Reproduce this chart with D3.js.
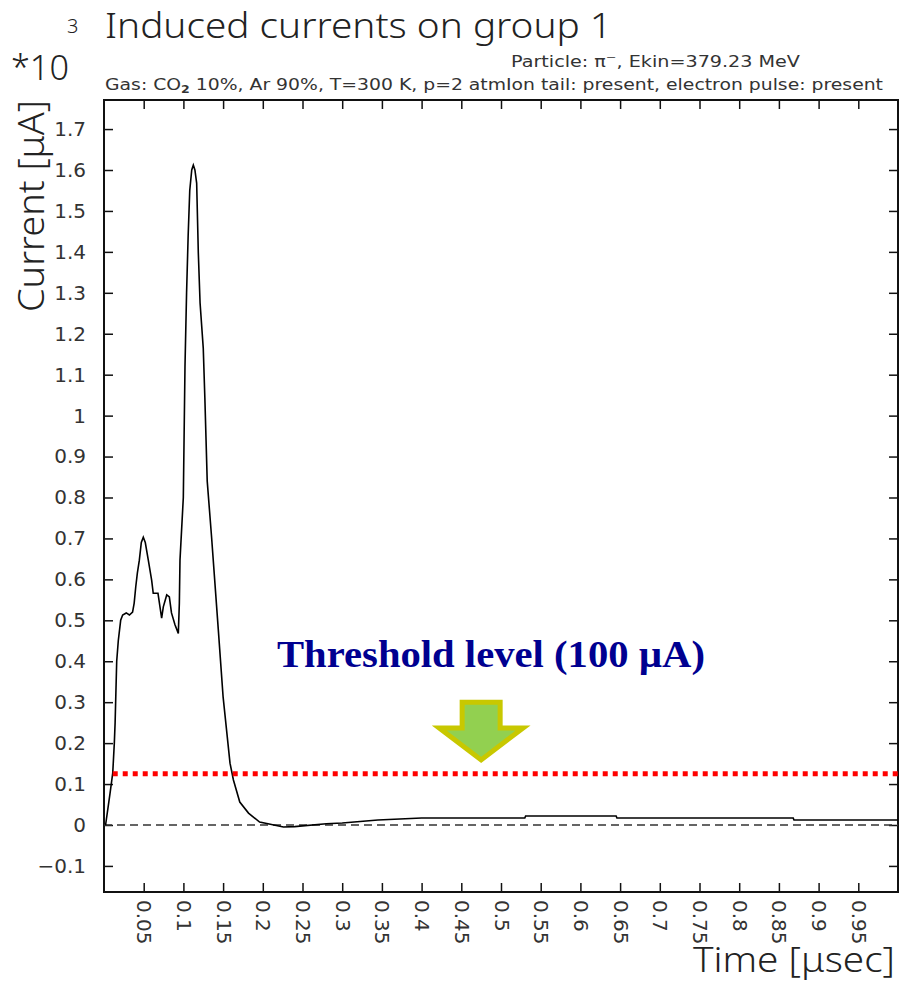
<!DOCTYPE html>
<html>
<head>
<meta charset="utf-8">
<script src="https://cdn.jsdelivr.net/npm/d3@7"></script>
<style>
  body { margin: 0; background: #fff; }
  svg text { font-family: "DejaVu Sans", "Liberation Sans", sans-serif; fill: #333; }
  svg text.thin { font-family: "Noto Sans", "DejaVu Sans", sans-serif; font-weight: 300; fill: #222; }
</style>
</head>
<body>
<div id="chart"></div>
<script>
// induced current, group 1 (time in usec, current in units of 1e3 uA)
var time = [0.002, 0.0076, 0.011, 0.013, 0.014, 0.016, 0.018, 0.021, 0.0235, 0.028,
  0.032, 0.036, 0.038, 0.040, 0.042, 0.0445, 0.047, 0.0495, 0.052, 0.0558,
  0.060, 0.062, 0.068, 0.0726, 0.0747, 0.079, 0.0823, 0.085, 0.0894, 0.0936,
  0.0949, 0.0957, 0.0999, 0.102, 0.104, 0.106, 0.108, 0.1105, 0.1125, 0.1145, 0.1167, 0.1188,
  0.121, 0.125, 0.127, 0.130, 0.1355, 0.144, 0.150, 0.1587, 0.163, 0.171,
  0.182, 0.196, 0.226, 0.24, 0.28, 0.30, 0.345, 0.40, 0.53, 0.531,
  0.645, 0.646, 0.868, 0.869, 1.0];
var current = [0, 0.077, 0.127, 0.20, 0.25, 0.40, 0.45, 0.50, 0.513, 0.518,
  0.513, 0.52, 0.542, 0.582, 0.615, 0.647, 0.69, 0.703, 0.69, 0.647,
  0.598, 0.566, 0.566, 0.505, 0.533, 0.562, 0.557, 0.518, 0.489, 0.468,
  0.542, 0.647, 0.80, 1.12, 1.30, 1.44, 1.55, 1.60, 1.612, 1.60, 1.568, 1.397,
  1.275, 1.165, 1.045, 0.84, 0.703, 0.476, 0.313, 0.151, 0.11, 0.056,
  0.029, 0.007, -0.005, -0.004, 0.003, 0.005, 0.012, 0.017, 0.017, 0.022,
  0.022, 0.017, 0.017, 0.012, 0.012];

var xTicks = [0.05, 0.1, 0.15, 0.2, 0.25, 0.3, 0.35, 0.4, 0.45, 0.5,
  0.55, 0.6, 0.65, 0.7, 0.75, 0.8, 0.85, 0.9, 0.95];
var yTicks = [-0.1, 0, 0.1, 0.2, 0.3, 0.4, 0.5, 0.6, 0.7, 0.8, 0.9,
  1, 1.1, 1.2, 1.3, 1.4, 1.5, 1.6, 1.7];
var yTickLabels = ["\u22120.1", "0", "0.1", "0.2", "0.3", "0.4", "0.5", "0.6", "0.7", "0.8", "0.9",
  "1", "1.1", "1.2", "1.3", "1.4", "1.5", "1.6", "1.7"];

var threshold = 0.125;      // red dotted line level
var thresholdStart = 0.011; // where the red line begins
var arrowAt = [0.475, 0.159, 0.30]; // tip time, tip level, top level

var W = 900, H = 985;
var margin = {top: 100, right: 2, bottom: 93, left: 104};
var width = W - margin.left - margin.right;
var height = H - margin.top - margin.bottom;

var x = d3.scaleLinear().domain([0, 1]).range([0, width]);
var y = d3.scaleLinear().domain([-0.1637, 1.771]).range([height, 0]);

var svg = d3.select('#chart').append('svg')
    .attr('width', W)
    .attr('height', H);

var g = svg.append('g')
    .attr('transform', 'translate(' + margin.left + ',' + margin.top + ')');

// axes with inward ticks on all four sides
g.append('g')
    .attr('class', 'y axis')
    .call(d3.axisLeft(y).tickValues(yTicks).tickSizeInner(-9).tickSizeOuter(0).tickPadding(18)
      .tickFormat(function(d, i) { return yTickLabels[i]; }));

g.append('g')
    .attr('transform', 'translate(' + width + ',0)')
    .call(d3.axisRight(y).tickValues(yTicks).tickSizeInner(-9).tickSizeOuter(0).tickFormat(''));

var xAxis = g.append('g')
    .attr('class', 'x axis')
    .attr('transform', 'translate(0,' + height + ')')
    .call(d3.axisBottom(x).tickValues(xTicks).tickSizeInner(-9).tickSizeOuter(0).tickPadding(8)
      .tickFormat(function(d) { return String(d); }));

xAxis.selectAll('text')
    .attr('transform', 'rotate(90)')
    .attr('x', 8)
    .attr('y', 0)
    .attr('dy', '0.35em')
    .style('text-anchor', 'start');

g.append('g')
    .call(d3.axisTop(x).tickValues(xTicks).tickSizeInner(-9).tickSizeOuter(0).tickFormat(''));

g.selectAll('.axis text').style('font-size', '20px').style('fill', '#333');
g.selectAll('.domain').remove();
g.selectAll('.tick line').attr('stroke', '#111').attr('stroke-width', 1.5);

// frame
g.append('rect')
    .attr('width', width)
    .attr('height', height)
    .attr('fill', 'none')
    .attr('stroke', '#111')
    .attr('stroke-width', 2);

// zero reference
g.append('line')
    .attr('x1', x(0)).attr('x2', x(1))
    .attr('y1', y(0)).attr('y2', y(0))
    .attr('stroke', '#333')
    .attr('stroke-width', 1.5)
    .attr('stroke-dasharray', '8,5');

// the signal
var line = d3.line()
    .x(function(d, i) { return x(time[i]); })
    .y(function(d) { return y(d); });

g.append('path')
    .datum(current)
    .attr('d', line)
    .attr('fill', 'none')
    .attr('stroke', '#000')
    .attr('stroke-width', 1.6);

// threshold line, runs past the frame to the page edge
g.append('line')
    .attr('x1', x(thresholdStart)).attr('x2', W - margin.left)
    .attr('y1', y(threshold)).attr('y2', y(threshold))
    .attr('stroke', '#ff0000')
    .attr('stroke-width', 5)
    .attr('stroke-dasharray', '5,5');

// arrow
var ax = x(arrowAt[0]), tipY = y(arrowAt[1]), topY = y(arrowAt[2]);
var headY = tipY - 32;
g.append('path')
    .attr('d', 'M' + (ax - 19) + ',' + topY + 'H' + (ax + 19) + 'V' + headY + 'H' + (ax + 42) +
      'L' + ax + ',' + tipY + 'L' + (ax - 42) + ',' + headY + 'H' + (ax - 19) + 'Z')
    .attr('fill', '#92d050')
    .attr('stroke', '#c8c800')
    .attr('stroke-width', 5)
    .attr('stroke-linejoin', 'miter');

g.append('text')
    .attr('x', 173)
    .attr('y', 567)
    .attr('textLength', 428)
    .attr('lengthAdjust', 'spacingAndGlyphs')
    .style('font-family', '"Liberation Serif", "Times New Roman", serif')
    .style('font-weight', 'bold')
    .style('font-size', '37px')
    .style('fill', '#000090')
    .text('Threshold level (100 \u00b5A)');

// titles
svg.append('text')
    .attr('class', 'thin')
    .attr('x', 105).attr('y', 38)
    .attr('textLength', 507)
    .attr('lengthAdjust', 'spacingAndGlyphs')
    .style('font-size', '34px')
    .text('Induced currents on group 1');

svg.append('text')
    .attr('class', 'thin')
    .attr('x', 11).attr('y', 80)
    .attr('textLength', 58)
    .attr('lengthAdjust', 'spacingAndGlyphs')
    .style('font-size', '35px')
    .text('*10');
svg.append('text')
    .attr('class', 'thin')
    .attr('x', 67).attr('y', 33)
    .style('font-size', '20px')
    .text('3');

var sub1 = svg.append('text')
    .attr('x', 511).attr('y', 67)
    .attr('textLength', 289)
    .attr('lengthAdjust', 'spacingAndGlyphs')
    .style('font-size', '15px');
sub1.append('tspan').text('Particle: \u03c0');
sub1.append('tspan').attr('dy', -6).style('font-size', '10px').text('\u2212');
sub1.append('tspan').attr('dy', 6).text(', Ekin=379.23 MeV');

var sub2 = svg.append('text')
    .attr('x', 105).attr('y', 90)
    .attr('textLength', 778)
    .attr('lengthAdjust', 'spacingAndGlyphs')
    .style('font-size', '15px');
sub2.append('tspan').text('Gas: CO');
sub2.append('tspan').attr('dy', 3).style('font-size', '10px').style('font-weight', 'bold').text('2');
sub2.append('tspan').attr('dy', -3).text(' 10%, Ar 90%, T=300 K, p=2 atmIon tail: present, electron pulse: present');

svg.append('text')
    .attr('class', 'thin')
    .attr('transform', 'translate(44,206) rotate(-90)')
    .attr('text-anchor', 'middle')
    .attr('textLength', 212)
    .attr('lengthAdjust', 'spacingAndGlyphs')
    .style('font-size', '36px')
    .text('Current [\u03bcA]');

svg.append('text')
    .attr('class', 'thin')
    .attr('x', 895).attr('y', 972)
    .attr('text-anchor', 'end')
    .attr('textLength', 202)
    .attr('lengthAdjust', 'spacingAndGlyphs')
    .style('font-size', '34px')
    .text('Time [\u03bcsec]');
</script>
</body>
</html>
